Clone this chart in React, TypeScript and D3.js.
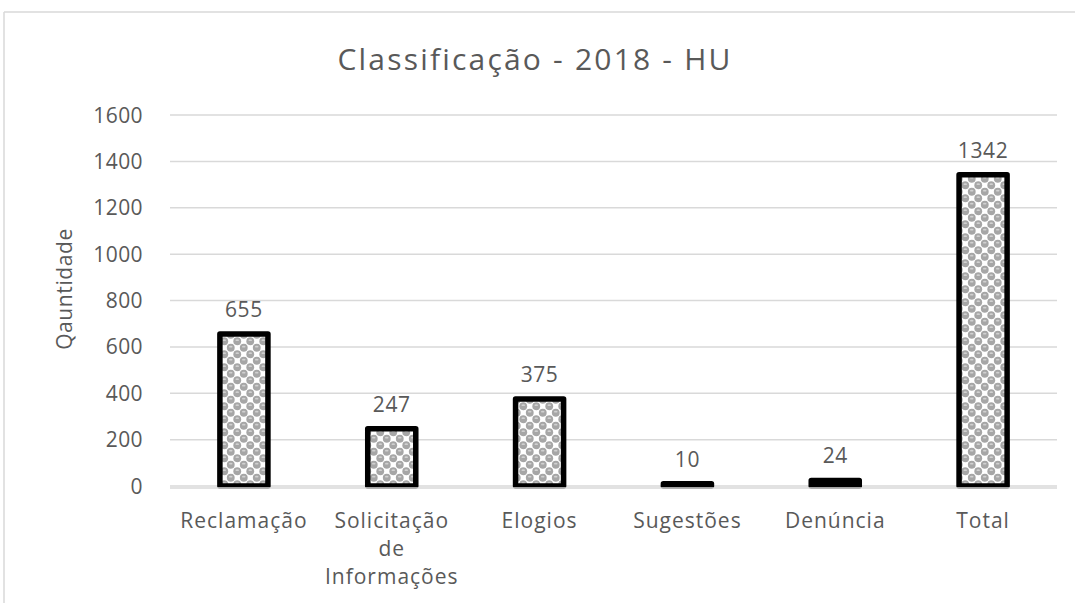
import React from 'react'
import * as d3 from 'd3'

// data
const categories = ['Reclamação', 'Solicitação de Informações', 'Elogios', 'Sugestões', 'Denúncia', 'Total']
const categoryLines = [['Reclamação'], ['Solicitação', 'de', 'Informações'], ['Elogios'], ['Sugestões'], ['Denúncia'], ['Total']]
const values = [655, 247, 375, 10, 24, 1342]
const yTicks = [0, 200, 400, 600, 800, 1000, 1200, 1400, 1600]

const W = 1075
const H = 603
const FONT = "'Open Sans', 'Noto Sans', sans-serif"
const TEXT = '#595959'
const GRID = '#d9d9d9'

export default function App() {
  const x = d3.scaleBand<string>().domain(categories).range([170, 1057]).padding(0)
  const y = d3.scaleLinear().domain([0, 1600]).range([486, 115])
  const barW = x.bandwidth() * 0.325
  const cx = (c: string) => (x(c) || 0) + x.bandwidth() / 2

  return (
    <svg width={W} height={H} style={{ position: 'absolute', left: 0, top: 0, background: '#fff' }}>
      <defs>
        <pattern id='sphere' width='13' height='13' patternUnits='userSpaceOnUse'>
          <rect width='13' height='13' fill='#ffffff' />
          <circle cx='3.25' cy='3.25' r='3.9' fill='#a6a6a6' />
          <circle cx='9.75' cy='9.75' r='3.9' fill='#a6a6a6' />
          <circle cx='9.75' cy='-3.25' r='3.9' fill='#a6a6a6' />
          <circle cx='-3.25' cy='9.75' r='3.9' fill='#a6a6a6' />
          <circle cx='16.25' cy='3.25' r='3.9' fill='#a6a6a6' />
          <circle cx='3.25' cy='16.25' r='3.9' fill='#a6a6a6' />
          <ellipse cx='3.25' cy='2.2' rx='1.8' ry='0.9' fill='#d0d0d0' />
          <ellipse cx='9.75' cy='8.7' rx='1.8' ry='0.9' fill='#d0d0d0' />
        </pattern>
      </defs>

      {/* chart area border */}
      <line x1={4} x2={W} y1={12} y2={12} stroke={GRID} strokeWidth={1.5} />
      <line x1={4} x2={4} y1={12} y2={H} stroke={GRID} strokeWidth={1.5} />

      <text x={535} y={70} textAnchor='middle' fontFamily={FONT} fontSize={30} fill={TEXT} letterSpacing={2.2}>
        Classificação - 2018 - HU
      </text>

      {/* grid + y ticks */}
      {yTicks.map(t => (
        <g key={`t-${t}`}>
          <line x1={170} x2={1057} y1={y(t)} y2={y(t)} stroke={GRID} strokeWidth={1.5} />
          <text x={143} y={y(t)} dy='0.36em' textAnchor='end' fontFamily={FONT} fontSize={21} fill={TEXT} letterSpacing={0.4}>
            {t}
          </text>
        </g>
      ))}

      <text transform={`translate(72,289) rotate(-90)`} textAnchor='middle' fontFamily={FONT} fontSize={21} fill={TEXT} letterSpacing={0.6}>
        Qauntidade
      </text>

      {/* bars */}
      {categories.map((c, i) => {
        const top = y(values[i])
        const h = y(0) - top
        return (
          <g key={`b-${c}`}>
            <rect x={cx(c) - barW / 2} y={top} width={barW} height={h} fill='url(#sphere)' stroke='#000' strokeWidth={5.5} strokeLinejoin='round' />
            <text x={cx(c)} y={top - 17} textAnchor='middle' fontFamily={FONT} fontSize={21} fill={TEXT} letterSpacing={0.6}>
              {values[i]}
            </text>
          </g>
        )
      })}

      <line x1={170} x2={1057} y1={y(0) + 2} y2={y(0) + 2} stroke={GRID} strokeWidth={1.5} />

      {/* category labels */}
      {categories.map((c, i) => (
        <text key={`l-${c}`} x={cx(c)} y={528} textAnchor='middle' fontFamily={FONT} fontSize={21} fill={TEXT} letterSpacing={1}>
          {categoryLines[i].map((ln, j) => (
            <tspan key={`ln-${j}`} x={cx(c)} dy={j === 0 ? 0 : 28}>{ln}</tspan>
          ))}
        </text>
      ))}
    </svg>
  )
}
